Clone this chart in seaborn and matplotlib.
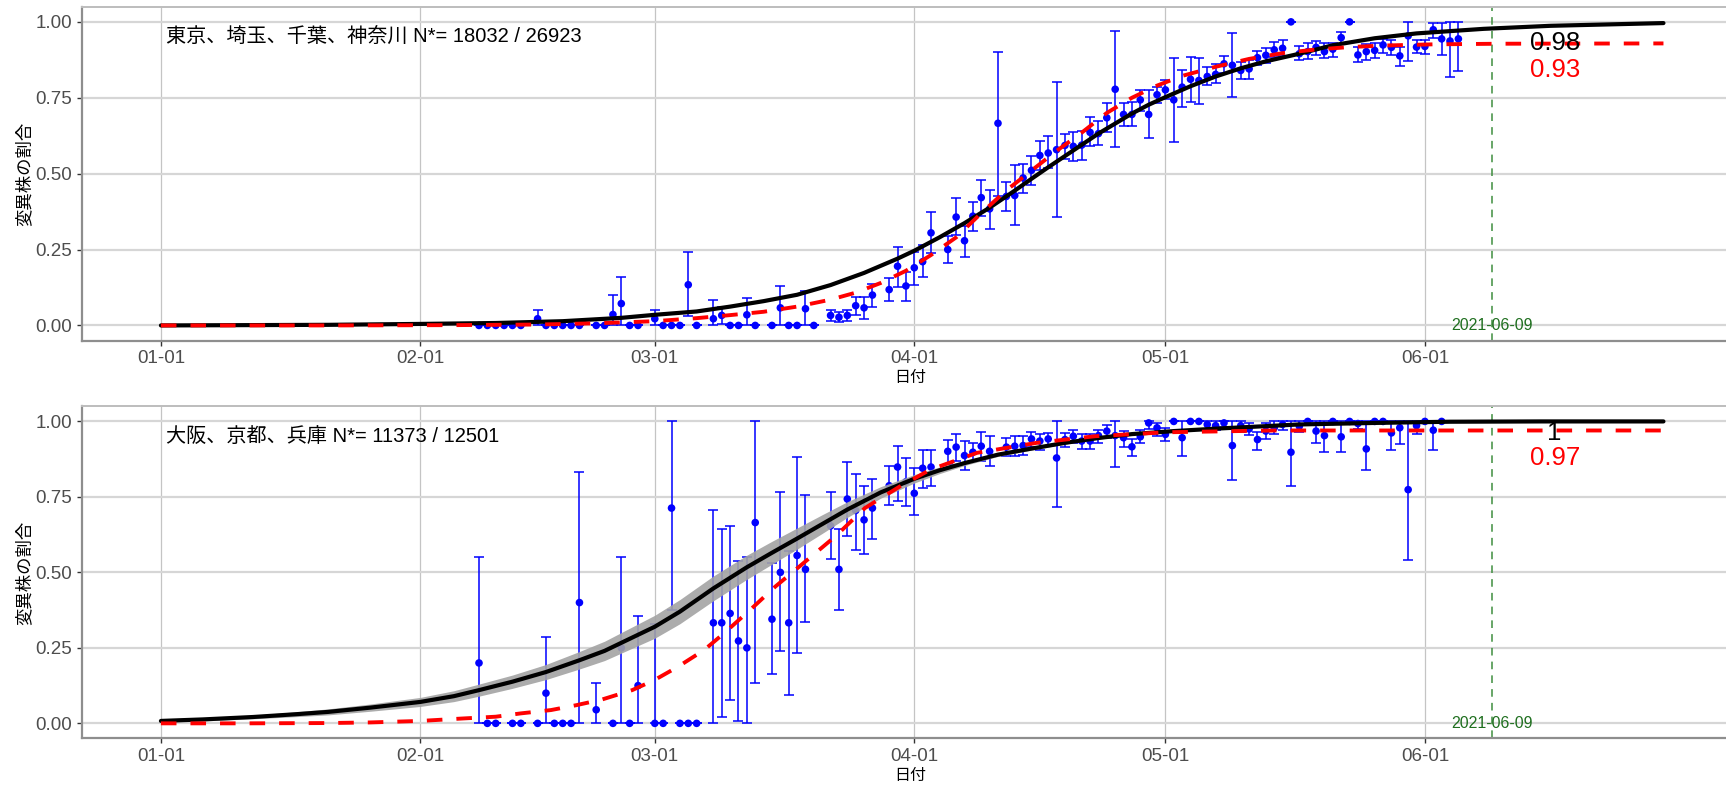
import numpy as np
import pandas as pd
import matplotlib
matplotlib.use("Agg")
import matplotlib.pyplot as plt
import seaborn as sns

# ---------------- data (days since 2021-01-01) ----------------
xtick_days = [0, 31, 59, 90, 120, 151]
xtick_labels = ["01-01", "02-01", "03-01", "04-01", "05-01", "06-01"]
ytick_vals = [0.00, 0.25, 0.50, 0.75, 1.00]
ytick_labels = ["0.00", "0.25", "0.50", "0.75", "1.00"]
vline_day = 159
vline_label = "2021-06-09"

# Panel 1 : Tokyo area
p1_title = "東京、埼玉、千葉、神奈川 N*= 18032 / 26923"
p1_fit_day = [0, 10, 20, 31, 40, 48, 55, 59, 64, 68, 72, 76, 80, 84, 88, 90, 93, 96, 99, 102,
              104, 106, 108, 110, 112, 114, 116, 118, 120, 123, 126, 129, 132, 136, 140, 145,
              150, 158, 166, 179.5]
p1_fit_val = [0.000, 0.001, 0.002, 0.005, 0.008, 0.014, 0.025, 0.035, 0.046, 0.062, 0.080, 0.101,
              0.133, 0.173, 0.220, 0.246, 0.290, 0.337, 0.388, 0.444, 0.483, 0.521, 0.558, 0.595,
              0.632, 0.665, 0.698, 0.727, 0.752, 0.788, 0.820, 0.847, 0.870, 0.895, 0.923, 0.946,
              0.962, 0.977, 0.987, 0.996]
p1_alt_day = [0, 20, 35, 45, 52, 59, 64, 68, 72, 76, 80, 83, 86, 89, 92, 95, 98, 101, 104, 107,
              110, 113, 116, 119, 122, 126, 130, 134, 138, 142, 146, 152, 160, 179.5]
p1_alt_val = [0.0, 0.0, 0.001, 0.003, 0.007, 0.014, 0.024, 0.034, 0.045, 0.062, 0.085, 0.108,
              0.140, 0.180, 0.232, 0.290, 0.370, 0.445, 0.510, 0.575, 0.635, 0.700, 0.750, 0.790,
              0.822, 0.852, 0.878, 0.897, 0.909, 0.917, 0.922, 0.926, 0.928, 0.929]
p1_obs_day = [38, 39, 40, 41, 42, 43, 45, 46, 47, 48, 49, 50, 52, 53, 54, 55, 56, 57, 59, 60,
              61, 62, 63, 64, 66, 67, 68, 69, 70, 71, 73, 74, 75, 76, 77, 78, 80, 81, 82, 83,
              84, 85, 87, 88, 89, 90, 91, 92, 94, 95, 96, 97, 98, 99, 100, 101, 102, 103, 104,
              105, 106, 107, 108, 109, 110, 111, 112, 113, 114, 115, 116, 117, 118, 119, 120,
              121, 122, 123, 124, 125, 126, 127, 128, 129, 130, 131, 132, 133, 134, 135, 136,
              137, 138, 139, 140, 141, 142, 143, 144, 145, 146, 147, 148, 149, 150, 151, 152,
              153, 154, 155]
p1_obs_val = [0, 0, 0, 0, 0, 0, 0.022, 0, 0, 0, 0, 0, 0, 0, 0.036, 0.072, 0, 0, 0.022, 0,
              0, 0, 0.134, 0, 0.022, 0.033, 0, 0, 0.035, 0, 0, 0.058, 0, 0, 0.055, 0, 0.033, 0.027,
              0.033, 0.065, 0.058, 0.100, 0.118, 0.195, 0.130, 0.190, 0.210, 0.305, 0.250, 0.357,
              0.279, 0.360, 0.421, 0.384, 0.666, 0.425, 0.428, 0.486, 0.511, 0.560, 0.568, 0.579,
              0.593, 0.590, 0.594, 0.636, 0.632, 0.684, 0.778, 0.695, 0.695, 0.743, 0.695, 0.760,
              0.776, 0.743, 0.785, 0.811, 0.807, 0.820, 0.827, 0.862, 0.857, 0.840, 0.845, 0.882,
              0.890, 0.908, 0.913, 1.000, 0.895, 0.902, 0.916, 0.902, 0.910, 0.948, 1.000, 0.891,
              0.902, 0.906, 0.924, 0.916, 0.888, 0.954, 0.917, 0.919, 0.974, 0.944, 0.937, 0.944]
p1_obs_lo = [0, 0, 0, 0, 0, 0, 0, 0, 0, 0, 0, 0, 0, 0, 0, 0, 0, 0, 0, 0,
             0, 0, 0.030, 0, 0, 0.005, 0, 0, 0, 0, 0, 0, 0, 0, 0, 0, 0.015, 0.010,
             0.015, 0.035, 0.020, 0.062, 0.080, 0.126, 0.080, 0.133, 0.159, 0.237, 0.206, 0.297,
             0.226, 0.310, 0.360, 0.319, 0.428, 0.376, 0.330, 0.436, 0.464, 0.513, 0.519, 0.357,
             0.548, 0.542, 0.546, 0.590, 0.593, 0.637, 0.587, 0.656, 0.658, 0.705, 0.617, 0.732,
             0.746, 0.605, 0.720, 0.736, 0.729, 0.793, 0.800, 0.833, 0.752, 0.811, 0.811, 0.859,
             0.866, 0.884, 0.888, 1.000, 0.873, 0.877, 0.891, 0.880, 0.884, 0.927, 1.000, 0.867,
             0.875, 0.880, 0.899, 0.891, 0.853, 0.872, 0.897, 0.895, 0.946, 0.892, 0.820, 0.839]
p1_obs_hi = [0, 0, 0, 0, 0, 0, 0.052, 0, 0, 0, 0, 0, 0, 0, 0.100, 0.160, 0, 0, 0.052, 0,
             0, 0, 0.243, 0, 0.085, 0.060, 0, 0, 0.090, 0, 0, 0.130, 0, 0, 0.115, 0, 0.050, 0.045,
             0.050, 0.095, 0.095, 0.135, 0.157, 0.259, 0.175, 0.242, 0.266, 0.373, 0.294, 0.421,
             0.327, 0.407, 0.480, 0.447, 0.901, 0.472, 0.530, 0.533, 0.557, 0.609, 0.623, 0.801,
             0.630, 0.637, 0.640, 0.686, 0.672, 0.732, 0.969, 0.732, 0.737, 0.776, 0.776, 0.787,
             0.807, 0.880, 0.842, 0.883, 0.880, 0.851, 0.861, 0.889, 0.962, 0.867, 0.875, 0.905,
             0.913, 0.934, 0.939, 1.000, 0.919, 0.929, 0.937, 0.930, 0.932, 0.968, 1.000, 0.916,
             0.928, 0.932, 0.943, 0.941, 0.916, 1.000, 0.941, 0.941, 0.996, 0.996, 1.000, 1.000]
p1_fit_end = "0.98"
p1_alt_end = "0.93"

# Panel 2 : Osaka area
p2_title = "大阪、京都、兵庫 N*= 11373 / 12501"
p2_fit_day = [0, 5, 11, 16, 20, 25, 31, 35, 38, 42, 46, 50, 53, 56, 59, 62, 66, 70, 73, 76, 79,
              82, 86, 90, 93, 96, 100, 104, 108, 112, 116, 121, 126, 131, 136, 145, 154, 165, 179.5]
p2_fit_val = [0.008, 0.013, 0.021, 0.030, 0.038, 0.052, 0.071, 0.090, 0.110, 0.138, 0.170, 0.209,
              0.240, 0.280, 0.320, 0.370, 0.447, 0.517, 0.565, 0.612, 0.660, 0.708, 0.765, 0.810,
              0.838, 0.862, 0.890, 0.910, 0.929, 0.945, 0.958, 0.968, 0.976, 0.983, 0.990, 0.995,
              0.999, 1.000, 1.000]
p2_fit_band = [0.004, 0.005, 0.006, 0.008, 0.010, 0.012, 0.015, 0.018, 0.020, 0.022, 0.025, 0.029,
               0.032, 0.035, 0.038, 0.040, 0.041, 0.040, 0.038, 0.035, 0.031, 0.026, 0.019, 0.014,
               0.011, 0.008, 0.006, 0.005, 0.004, 0.003, 0.003, 0.002, 0.002, 0.001, 0.001, 0.001,
               0.001, 0.0, 0.0]
p2_alt_day = [0, 10, 20, 25, 31, 36, 40, 43, 46.6, 49.6, 52.7, 56.3, 59, 61.8, 64.9, 67.3, 70.4,
              73.4, 76.3, 80.6, 84.1, 88.3, 91.9, 97.5, 104.6, 111.6, 120, 132.8, 150, 179.5]
p2_alt_val = [0.0, 0.0, 0.001, 0.003, 0.008, 0.016, 0.022, 0.033, 0.044, 0.060, 0.079, 0.110,
              0.144, 0.188, 0.243, 0.299, 0.376, 0.453, 0.520, 0.620, 0.713, 0.785, 0.840, 0.896,
              0.929, 0.951, 0.964, 0.970, 0.970, 0.970]
p2_obs_day = [38, 39, 40, 42, 43, 45, 46, 47, 48, 49, 50, 52, 54, 55, 56, 57, 59, 60, 61, 62,
              63, 64, 66, 67, 68, 69, 70, 71, 73, 74, 75, 76, 77, 80, 81, 82, 83, 84, 85, 87,
              88, 89, 90, 91, 92, 94, 95, 96, 97, 98, 99, 101, 102, 103, 104, 105, 106, 107,
              108, 109, 110, 111, 112, 113, 114, 115, 116, 117, 118, 119, 120, 121, 122, 123,
              124, 125, 126, 127, 128, 129, 130, 131, 132, 133, 134, 135, 136, 137, 138, 139,
              140, 141, 142, 143, 144, 145, 146, 147, 148, 149, 150, 151, 152, 153]
p2_obs_val = [0.200, 0, 0, 0, 0, 0, 0.100, 0, 0, 0, 0.400, 0.045, 0, 0.250, 0, 0.125, 0, 0,
              0.713, 0, 0, 0, 0.333, 0.333, 0.364, 0.273, 0.250, 0.665, 0.345, 0.500, 0.333,
              0.556, 0.510, 0.654, 0.510, 0.743, 0.705, 0.674, 0.713, 0.787, 0.849, 0.800, 0.762,
              0.845, 0.849, 0.901, 0.915, 0.887, 0.898, 0.918, 0.901, 0.915, 0.918, 0.920, 0.942,
              0.935, 0.942, 0.879, 0.940, 0.951, 0.935, 0.935, 0.953, 0.968, 0.953, 0.946, 0.916,
              0.949, 0.995, 0.979, 0.957, 1.000, 0.946, 1.000, 1.000, 0.990, 0.986, 0.995, 0.920,
              0.986, 0.975, 0.940, 0.968, 0.979, 0.990, 0.898, 0.984, 1.000, 0.968, 0.953, 1.000,
              0.949, 1.000, 0.993, 0.909, 1.000, 1.000, 0.962, 0.979, 0.774, 0.986, 1.000, 0.971,
              1.000]
p2_obs_lo = [0, 0, 0, 0, 0, 0, 0, 0, 0, 0, 0, 0, 0, 0, 0, 0, 0, 0,
             0.377, 0, 0, 0, 0, 0.020, 0.078, 0.007, 0, 0.132, 0.163, 0.240, 0.095,
             0.232, 0.337, 0.544, 0.375, 0.620, 0.575, 0.560, 0.610, 0.724, 0.735, 0.721, 0.691,
             0.780, 0.785, 0.860, 0.868, 0.840, 0.868, 0.868, 0.852, 0.885, 0.887, 0.890, 0.915,
             0.907, 0.918, 0.716, 0.915, 0.930, 0.910, 0.910, 0.930, 0.945, 0.850, 0.916, 0.885,
             0.929, 0.975, 0.953, 0.935, 1.000, 0.887, 1.000, 1.000, 0.975, 0.970, 0.980, 0.807,
             0.965, 0.955, 0.905, 0.942, 0.960, 0.970, 0.787, 0.965, 1.000, 0.929, 0.900, 1.000,
             0.900, 1.000, 0.975, 0.840, 1.000, 1.000, 0.905, 0.924, 0.540, 0.960, 1.000, 0.907,
             1.000]
p2_obs_hi = [0.552, 0, 0, 0, 0, 0, 0.285, 0, 0, 0, 0.833, 0.134, 0, 0.552, 0, 0.355, 0.330, 0,
             1.000, 0, 0, 0, 0.707, 0.643, 0.652, 0.538, 0.552, 1.000, 0.531, 0.765, 0.572,
             0.882, 0.757, 0.765, 0.643, 0.865, 0.826, 0.787, 0.810, 0.854, 0.918, 0.879, 0.846,
             0.905, 0.907, 0.940, 0.957, 0.935, 0.930, 0.966, 0.951, 0.945, 0.951, 0.953, 0.965,
             0.960, 0.962, 1.000, 0.962, 0.973, 0.957, 0.957, 0.973, 0.987, 1.000, 0.968, 0.942,
             0.971, 1.000, 0.995, 0.979, 1.000, 1.000, 1.000, 1.000, 1.000, 1.000, 1.000, 1.000,
             1.000, 0.995, 0.965, 0.995, 1.000, 1.000, 1.000, 1.000, 1.000, 1.000, 1.000, 1.000,
             1.000, 1.000, 1.000, 1.000, 1.000, 1.000, 1.000, 1.000, 1.000, 1.000, 1.000, 1.000,
             1.000]
p2_fit_end = "1"
p2_alt_end = "0.97"

panels = [
    dict(title=p1_title, fit_day=p1_fit_day, fit_val=p1_fit_val, band=None,
         alt_day=p1_alt_day, alt_val=p1_alt_val, obs_day=p1_obs_day, obs_val=p1_obs_val,
         obs_lo=p1_obs_lo, obs_hi=p1_obs_hi, fit_end=p1_fit_end, alt_end=p1_alt_end,
         fit_lab_y=0.932, alt_lab_y=0.840),
    dict(title=p2_title, fit_day=p2_fit_day, fit_val=p2_fit_val, band=p2_fit_band,
         alt_day=p2_alt_day, alt_val=p2_alt_val, obs_day=p2_obs_day, obs_val=p2_obs_val,
         obs_lo=p2_obs_lo, obs_hi=p2_obs_hi, fit_end=p2_fit_end, alt_end=p2_alt_end,
         fit_lab_y=0.962, alt_lab_y=0.880),
]

# ---------------- style ----------------
sns.set_theme(style="white")
plt.rcParams['font.family'] = ['Liberation Sans', 'Noto Sans CJK JP', 'DejaVu Sans']

fig = plt.figure(figsize=(17.26, 7.87), dpi=100)
fig.patch.set_facecolor("white")
axes_rects = [[0.0473, 0.5672, 0.9606, 0.4243], [0.0473, 0.0617, 0.9606, 0.4220]]

for rect, p in zip(axes_rects, panels):
    ax = fig.add_axes(rect)
    ax.set_facecolor("white")

    # observed proportions with error bars
    obs = pd.DataFrame({"day": p["obs_day"], "val": p["obs_val"],
                        "lo": p["obs_lo"], "hi": p["obs_hi"]})
    yerr = np.vstack([obs["val"] - obs["lo"], obs["hi"] - obs["val"]]).clip(min=0)
    ax.errorbar(obs["day"], obs["val"], yerr=yerr, fmt="none", ecolor="#0000FF",
                elinewidth=1.1, capsize=3.4, capthick=1.1, zorder=3)
    sns.scatterplot(data=obs, x="day", y="val", ax=ax, color="#0000FF", s=30,
                    edgecolor="none", linewidth=0, zorder=4)

    fit = pd.DataFrame({"day": p["fit_day"], "val": p["fit_val"]})
    if p["band"] is not None:
        band = np.array(p["band"])
        ax.fill_between(fit["day"], fit["val"] - band, fit["val"] + band,
                        color="#A3A3A3", alpha=0.9, linewidth=0, zorder=4.5)
    sns.lineplot(data=fit, x="day", y="val", ax=ax, color="black", linewidth=3.0,
                 estimator=None, zorder=5)

    alt = pd.DataFrame({"day": p["alt_day"], "val": p["alt_val"]})
    sns.lineplot(data=alt, x="day", y="val", ax=ax, color="#FF0000", linewidth=2.8,
                 linestyle=(0, (4.0, 3.6)), estimator=None, zorder=6)

    # vertical reference date
    ax.axvline(vline_day, color="#3E8E3E", linewidth=1.1, linestyle=(0, (5, 4)), zorder=2)
    ax.text(vline_day, 0.0, vline_label, color="#1F6F1F", fontsize=11.5,
            ha="center", va="center", zorder=7)

    # end labels
    ax.text(166.5, p["fit_lab_y"], p["fit_end"], color="black", fontsize=18.5,
            ha="center", va="center", zorder=8)
    ax.text(166.5, p["alt_lab_y"], p["alt_end"], color="#FF0000", fontsize=18.5,
            ha="center", va="center", zorder=8)

    # region title
    ax.text(0.6, 0.95, p["title"], color="black", fontsize=14.5,
            ha="left", va="center", zorder=8)

    # axes cosmetics
    ax.set_xlim(-9.47, 188.6)
    ax.set_ylim(-0.05, 1.05)
    ax.set_xticks(xtick_days)
    ax.set_xticklabels(xtick_labels)
    ax.set_yticks(ytick_vals)
    ax.set_yticklabels(ytick_labels)
    ax.yaxis.grid(True, color="#D6D6D6", linewidth=1.6, zorder=0)
    ax.xaxis.grid(True, color="#C4C4C4", linewidth=0.9, zorder=0)
    ax.set_axisbelow(True)
    for side in ["left", "bottom"]:
        ax.spines[side].set_color("#8E8E8E")
        ax.spines[side].set_linewidth(1.6)
    ax.spines["top"].set_color("#BDBDBD")
    ax.spines["top"].set_linewidth(1.4)
    ax.spines["right"].set_visible(False)
    ax.tick_params(axis="both", which="major", length=3.5, width=1.0, color="#333333",
                   labelsize=13.5, labelcolor="#4D4D4D", pad=3.5, bottom=True, left=True)
    ax.set_xlabel("日付", fontsize=11.5, color="black")
    ax.set_ylabel("変異株の割合", fontsize=12.5, color="black")
    ax.xaxis.set_label_coords(0.5, -0.088)
    ax.yaxis.set_label_coords(-0.0295, 0.5)

fig.savefig("out.png", dpi=100, facecolor="white")
